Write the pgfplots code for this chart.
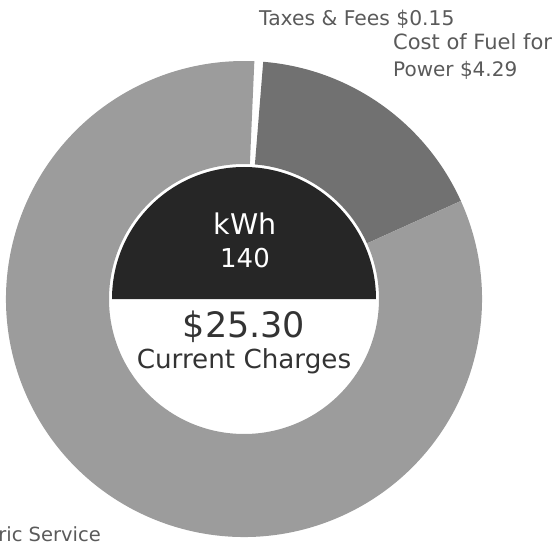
\documentclass[border=0pt]{standalone}
\usepackage{pgfplots}
\pgfplotsset{compat=1.18}
\usepackage{pgfplotstable}
\usepackage{fontspec}
\setmainfont{DejaVu Sans}
\definecolor{fuel}{HTML}{717171}
\definecolor{elec}{HTML}{9C9C9C}
\definecolor{taxes}{HTML}{FFFFFF}
\definecolor{core}{HTML}{262626}
\definecolor{lbl}{HTML}{5A5A5A}
\definecolor{ctr}{HTML}{333333}

\pgfplotstableread{
label value
Taxes 0.15
Fuel 4.29
Electric 20.86
}\charges

\begin{document}
\begin{tikzpicture}
\path[use as bounding box] (0,0) rectangle (558pt,542pt);
\clip (0,0) rectangle (558pt,542pt);
\pgfplotstablegetelem{0}{value}\of\charges \let\vA\pgfplotsretval
\pgfplotstablegetelem{1}{value}\of\charges \let\vB\pgfplotsretval
\pgfplotstablegetelem{2}{value}\of\charges \let\vC\pgfplotsretval
\pgfmathsetmacro\tot{\vA+\vB+\vC}
\pgfmathsetmacro\aO{87.5}
\pgfmathsetmacro\aA{\aO-\vA/\tot*360}
\pgfmathsetmacro\aB{\aA-\vB/\tot*360}
\pgfmathsetmacro\aC{\aB-\vC/\tot*360}
\begin{axis}[hide axis, x=1pt, y=1pt, xmin=0, xmax=558, ymin=0, ymax=542,
  at={(0,0)}, anchor=south west, clip=false]
% ring slices
\fill[taxes] (axis cs:244,243) ++(\aO:238pt) arc[start angle=\aO, end angle=\aA, radius=238pt]
   -- ++(\aA+180:103pt) arc[start angle=\aA, end angle=\aO, radius=135pt] -- cycle;
\fill[fuel] (axis cs:244,243) ++(\aA:238pt) arc[start angle=\aA, end angle=\aB, radius=238pt]
   -- ++(\aB+180:103pt) arc[start angle=\aB, end angle=\aA, radius=135pt] -- cycle;
\fill[elec] (axis cs:244,243) ++(\aB:238pt) arc[start angle=\aB, end angle=\aC, radius=238pt]
   -- ++(\aC+180:103pt) arc[start angle=\aC, end angle=\aB, radius=135pt] -- cycle;
% dark upper half of the centre
\fill[core] (axis cs:244,243) ++(0:132pt) arc[start angle=0, end angle=180, radius=132pt] -- cycle;
% centre texts
\node[anchor=base, text=white, inner sep=0pt, font=\fontsize{28.5}{28.5}\selectfont] at (axis cs:245,307) {kWh};
\node[anchor=base, text=white, inner sep=0pt, font=\fontsize{26}{26}\selectfont] at (axis cs:245,275) {140};
\node[anchor=base, text=ctr, inner sep=0pt, font=\fontsize{35}{35}\selectfont] at (axis cs:244,205) {\$25.30};
\node[anchor=base, text=ctr, inner sep=0pt, font=\fontsize{26.2}{26.2}\selectfont] at (axis cs:244,174) {Current Charges};
% outside labels
\node[anchor=base west, text=lbl, inner sep=0pt, font=\fontsize{20.3}{20.3}\selectfont] at (axis cs:259,516) {Taxes \& Fees \$0.15};
\node[anchor=base west, text=lbl, inner sep=0pt, font=\fontsize{21}{21}\selectfont] at (axis cs:393,492) {Cost of Fuel for};
\node[anchor=base west, text=lbl, inner sep=0pt, font=\fontsize{20}{20}\selectfont] at (axis cs:393,465) {Power \$4.29};
\node[anchor=base east, text=lbl, inner sep=0pt, font=\fontsize{19.5}{19.5}\selectfont] at (axis cs:101,1) {Electric Service};
\end{axis}
\end{tikzpicture}
\end{document}
